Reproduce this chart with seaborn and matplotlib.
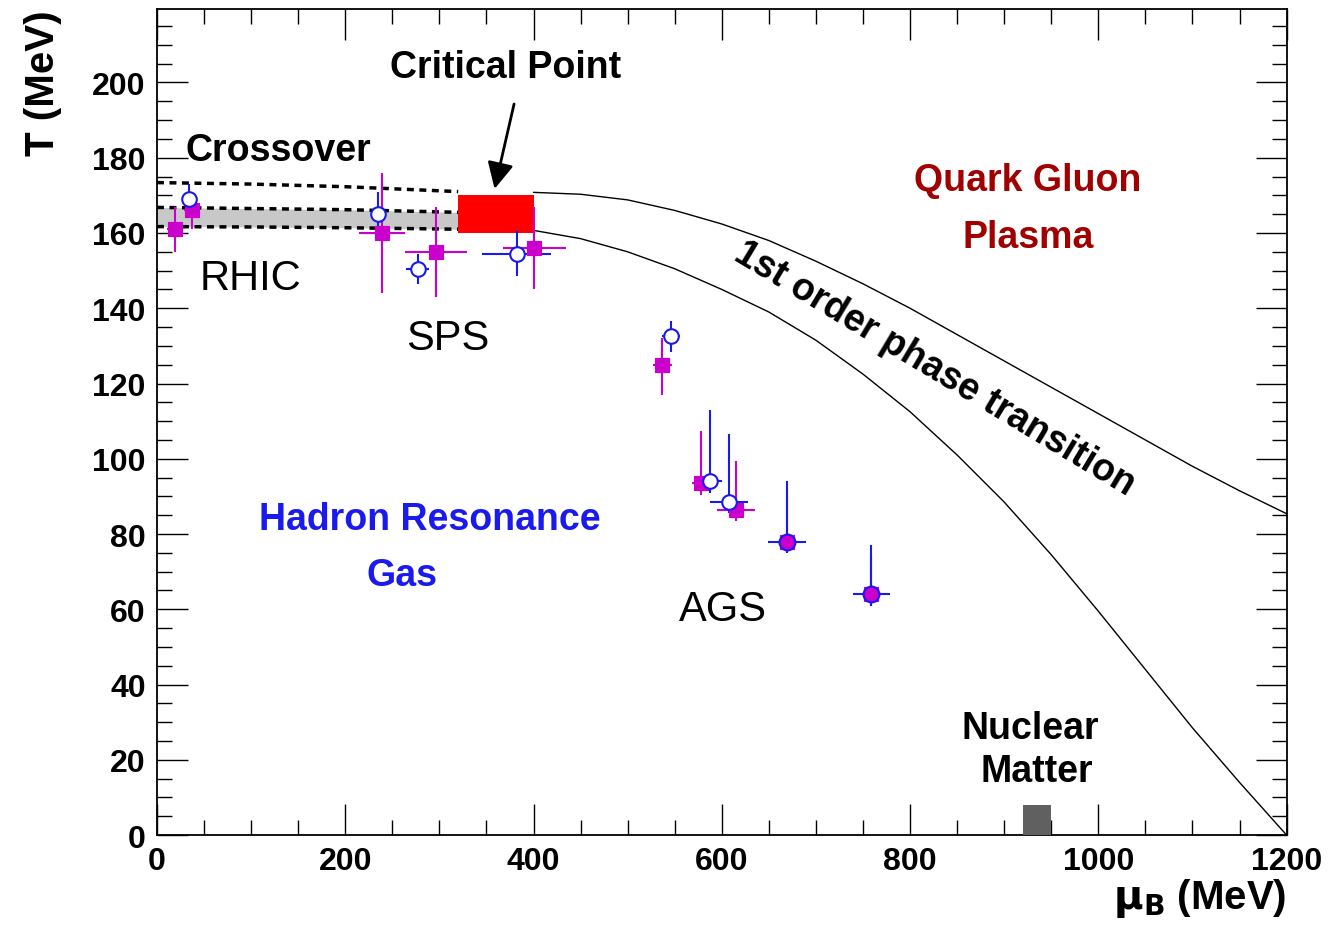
import matplotlib
matplotlib.use("Agg")
import matplotlib.pyplot as plt
import numpy as np
import pandas as pd
import seaborn as sns
from matplotlib.patches import Rectangle
from matplotlib.ticker import MultipleLocator

sns.set_style("ticks")
plt.rcParams["font.family"] = ["Liberation Sans", "DejaVu Sans"]
plt.rcParams["text.color"] = "black"
plt.rcParams["xtick.color"] = "black"
plt.rcParams["ytick.color"] = "black"
plt.rcParams["axes.labelcolor"] = "black"
plt.rcParams["axes.edgecolor"] = "black"

# magenta squares
sq_mu = [19, 37, 239, 296, 401, 537, 578, 615, 669, 759]
sq_t = [161, 166, 160, 155, 156, 125, 93.5, 86.5, 78, 64]
sq_xerr = [8, 8, 24, 33, 33, 10, 10, 20, 10, 10]
sq_yerr_lo = [6, 5, 16, 12, 11, 8, 3, 3, 3, 3]
sq_yerr_hi = [6, 5, 16, 12, 11, 7, 14, 13, 12, 10]

# blue open circles
ci_mu = [34, 235, 277, 382, 546, 587, 608, 669, 759]
ci_t = [169, 165, 150.5, 154.5, 132.5, 94, 88.5, 78, 64]
ci_xerr = [5, 5, 12, 37, 10, 13, 20, 20, 20]
ci_yerr_lo = [4, 6, 4, 6, 4, 3, 3, 3, 3]
ci_yerr_hi = [4, 6, 4, 6, 4, 19, 18, 16, 13]

# phase boundary curves
curve_mu = [400, 450, 500, 550, 600, 650, 700, 750, 800, 850,
            900, 950, 1000, 1050, 1100, 1150, 1200]
upper_t = [170.8, 170.3, 168.8, 166, 162.4, 158, 152.5, 146.5, 140, 133,
           126, 119, 112, 105, 98, 91.5, 85.4]
lower_t = [160.7, 158.5, 155, 150.5, 145, 139, 131.5, 122.5, 112.5, 101,
           88.5, 74.5, 59.5, 44, 28.5, 14, 0]

# crossover band
cross_mu = [0, 100, 200, 320]
cross_top = [173.4, 173, 172.3, 171]
cross_mid = [166.8, 166.5, 166.2, 165.5]
cross_bot = [161.7, 161.6, 161.4, 161]

fig = plt.figure(figsize=(13.36, 9.45), dpi=100)
ax = fig.add_axes([0.1175, 0.1153, 0.8455, 0.874])

ax.fill_between(cross_mu, cross_bot, cross_mid, color="#c8c8c8", lw=0)
for yy in (cross_top, cross_mid, cross_bot):
    ax.plot(cross_mu, yy, color="black", ls=(0, (2, 1.6)), lw=2.5)

ax.plot(curve_mu, upper_t, color="black", lw=1)
ax.plot(curve_mu, lower_t, color="black", lw=1)

ax.add_patch(Rectangle((320, 160), 80, 10, color="red", lw=0, zorder=3))
ax.add_patch(Rectangle((920, 0), 30, 8, color="#606060", lw=0, zorder=3))

ax.errorbar(sq_mu, sq_t, xerr=sq_xerr, yerr=[sq_yerr_lo, sq_yerr_hi],
            fmt="none", ecolor="#cc00cc", elinewidth=1.5, zorder=4)
ax.errorbar(ci_mu, ci_t, xerr=ci_xerr, yerr=[ci_yerr_lo, ci_yerr_hi],
            fmt="none", ecolor="#1a1aee", elinewidth=1.5, zorder=5)
sq = pd.DataFrame({"mu": sq_mu, "T": sq_t})
ci = pd.DataFrame({"mu": ci_mu, "T": ci_t})
sns.scatterplot(data=sq, x="mu", y="T", marker="s", s=110, color="#cc00cc",
                edgecolor="#cc00cc", ax=ax, zorder=6)
sns.scatterplot(data=ci.iloc[:7], x="mu", y="T", marker="o", s=110,
                facecolor="white", edgecolor="#1a1aee", linewidth=1.5, ax=ax, zorder=7)
sns.scatterplot(data=ci.iloc[7:], x="mu", y="T", marker="o", s=130,
                facecolor="#cc00cc", edgecolor="#1a1aee", linewidth=1.5, ax=ax, zorder=7)

ax.set_xlim(0, 1200)
ax.set_ylim(0, 219.5)
ax.xaxis.set_major_locator(MultipleLocator(200))
ax.xaxis.set_minor_locator(MultipleLocator(50))
ax.yaxis.set_major_locator(MultipleLocator(20))
ax.yaxis.set_minor_locator(MultipleLocator(5))
ax.tick_params(which="both", direction="in", top=True, right=True, width=1)
ax.tick_params(which="major", length=22, labelsize=23, pad=8)
ax.tick_params(which="minor", length=11)
for lab in ax.get_xticklabels() + ax.get_yticklabels():
    lab.set_fontweight("bold")
for s in ax.spines.values():
    s.set_linewidth(1.3)

ax.set_xlabel(r"$\mathbf{\mu_B}$ (MeV)", fontsize=29, fontweight="bold", loc="right", labelpad=0)
ax.set_ylabel("T (MeV)", fontsize=29, fontweight="bold", loc="top", labelpad=22)

bold = dict(fontweight="bold", fontsize=27)
ax.text(30, 182, "Crossover", ha="left", va="center", **bold)
ax.text(370, 204, "Critical Point", ha="center", va="center", **bold)
ax.annotate("", xy=(358, 171), xytext=(380, 195),
            arrowprops=dict(arrowstyle="-|>", color="black", lw=2, mutation_scale=40))
ax.text(45, 148, "RHIC", fontsize=30, ha="left", va="center")
ax.text(265, 132, "SPS", fontsize=30, ha="left", va="center")
ax.text(555, 60, "AGS", fontsize=30, ha="left", va="center")
ax.text(290, 84, "Hadron Resonance", color="#1a1aee", ha="center", va="center", **bold)
ax.text(260, 69, "Gas", color="#1a1aee", ha="center", va="center", **bold)
ax.text(925, 174, "Quark Gluon", color="#a00000", ha="center", va="center", **bold)
ax.text(925, 159, "Plasma", color="#a00000", ha="center", va="center", **bold)
ax.text(826, 124, "1st order phase transition", rotation=-31, ha="center", va="center", **bold)
ax.text(928, 28.5, "Nuclear", ha="center", va="center", **bold)
ax.text(935, 17, "Matter", ha="center", va="center", **bold)

fig.savefig("out.png", dpi=100)
